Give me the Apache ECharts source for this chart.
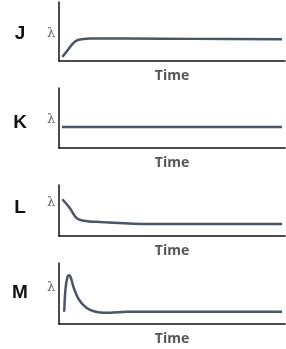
<!DOCTYPE html>
<html><head><meta charset="utf-8">
<script src="https://cdn.jsdelivr.net/npm/echarts@6/dist/echarts.min.js"></script>
<style>html,body{margin:0;padding:0;background:#fff}#c{width:286px;height:349px}</style>
</head><body><div id="c"></div>
<script>
const panelLetters = ['J', 'K', 'L', 'M'];
const xAxisName = 'Time';
const yMarker = 'λ';
const jX = [1.5, 4, 6, 8, 10, 14, 30, 60, 98.7];
const jY = [0.07, 0.19, 0.29, 0.35, 0.37, 0.38, 0.38, 0.375, 0.37];
const kX = [1.3, 98.7];
const kY = [0.35, 0.35];
const lX = [1.5, 4.9, 7.8, 10.8, 18.1, 40.3, 98.7];
const lY = [0.72, 0.54, 0.35, 0.30, 0.275, 0.235, 0.235];
const mX = [2.3, 2.9, 3.8, 4.6, 5.3, 6.6, 8.5, 10.8, 13.7, 18.1, 22.6, 29.9, 40.3, 98.7];
const mY = [0.20, 0.585, 0.775, 0.80, 0.75, 0.585, 0.42, 0.31, 0.23, 0.19, 0.185, 0.20, 0.20, 0.20];

const seriesX = [jX, kX, lX, mX];
const seriesY = [jY, kY, lY, mY];
const grids = [
  {left: 59, top: 2, width: 226, height: 59},
  {left: 59, top: 88, width: 226, height: 60},
  {left: 59, top: 185, width: 226, height: 51},
  {left: 59, top: 263, width: 226, height: 61}
];
const letterY = [34, 123, 208, 293];
const lambdaY = [34, 120, 203, 288];

const chart = echarts.init(document.getElementById('c'), null, {renderer: 'canvas'});
const axisLine = {show: true, lineStyle: {color: '#111', width: 1.5}};
const option = {
  animation: false,
  grid: grids,
  xAxis: grids.map((g, i) => ({
    type: 'value', gridIndex: i, min: 0, max: 100,
    axisLine: axisLine, axisTick: {show: false}, axisLabel: {show: false}, splitLine: {show: false},
    name: xAxisName, nameLocation: 'middle', nameGap: 8,
    nameTextStyle: {fontFamily: 'Open Sans', fontWeight: 'bold', fontSize: 14, color: '#555', verticalAlign: 'top'}
  })),
  yAxis: grids.map((g, i) => ({
    type: 'value', gridIndex: i, min: 0, max: 1,
    axisLine: axisLine, axisTick: {show: false}, axisLabel: {show: false}, splitLine: {show: false}
  })),
  series: seriesX.map((xs, i) => ({
    type: 'line', xAxisIndex: i, yAxisIndex: i, smooth: 0.35, symbol: 'none',
    lineStyle: {color: '#4a5565', width: 2.5},
    data: xs.map((x, k) => [x, seriesY[i][k]])
  })),
  graphic: panelLetters.map((t, i) => ({
    type: 'text', x: 20, y: letterY[i],
    style: {text: t, font: 'bold 19px "Liberation Sans"', fill: '#111', align: 'center', verticalAlign: 'middle'}
  })).concat(panelLetters.map((t, i) => ({
    type: 'text', x: 51, y: lambdaY[i],
    style: {text: yMarker, font: '13px "DejaVu Serif"', fill: '#666', align: 'center', verticalAlign: 'middle'}
  })))
};
chart.setOption(option);
</script></body></html>
